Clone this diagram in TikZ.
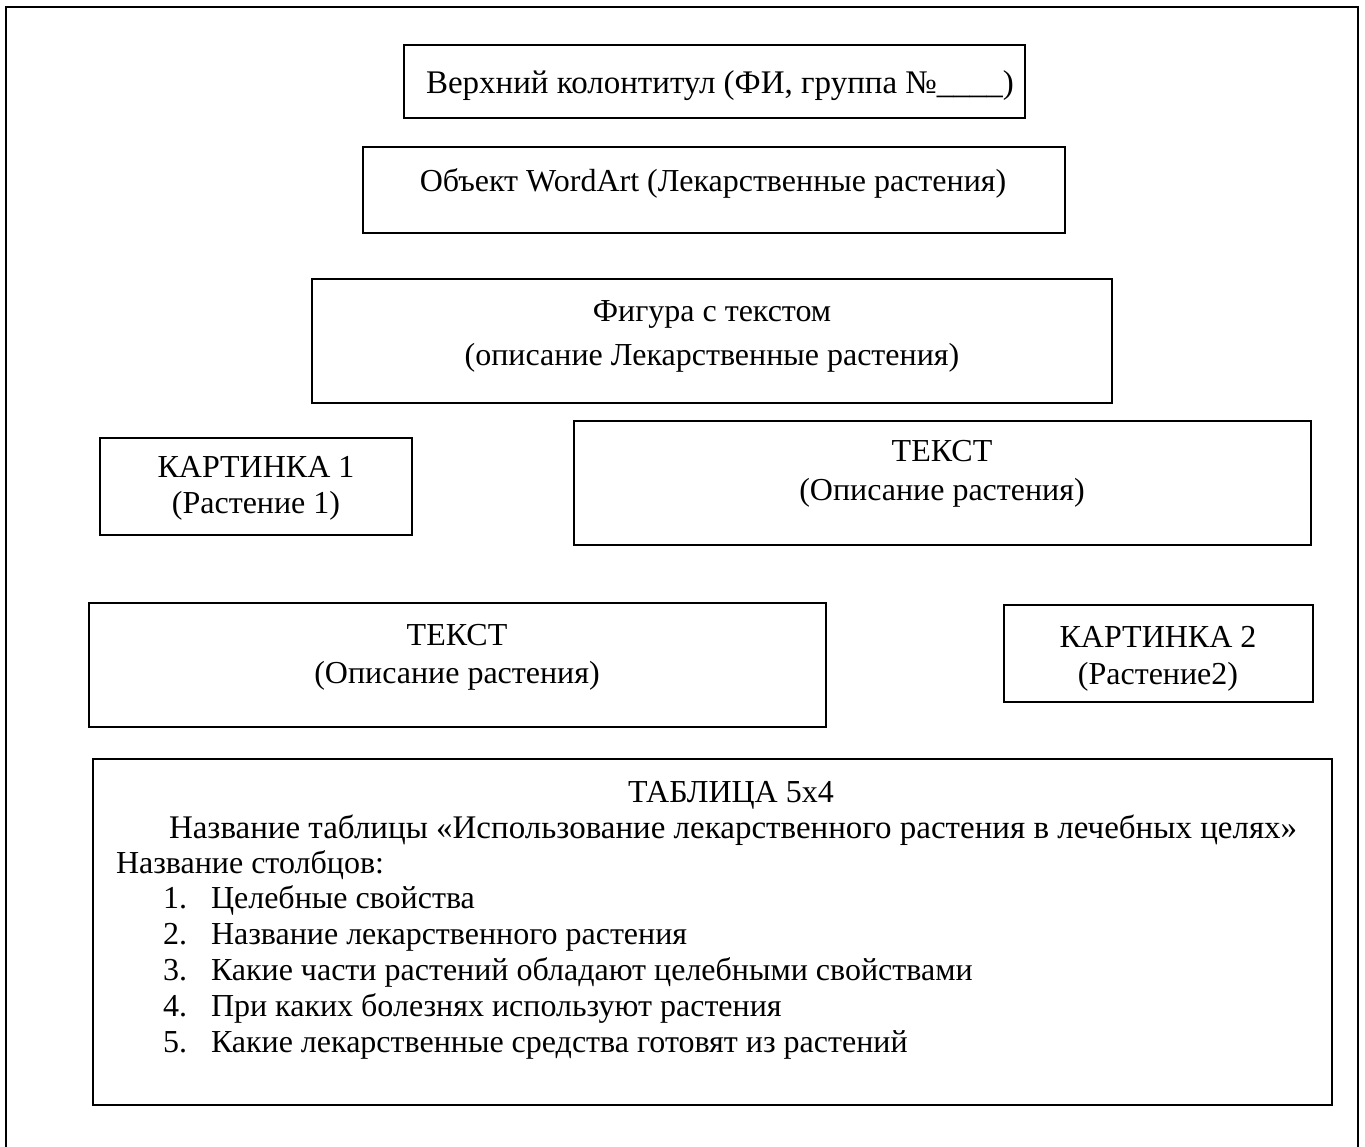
\documentclass[tikz,border=0pt]{standalone}
\usepackage{fontspec}
\setmainfont{Liberation Serif}
\begin{document}
\begin{tikzpicture}[x=1pt,y=-1pt,
  box/.style={draw=black, line width=2pt, inner sep=0pt, outer sep=0pt},
  txt/.style={font=\fontsize{32}{36}\selectfont, inner sep=0pt, outer sep=0pt, anchor=base},
  ltxt/.style={txt, anchor=base west},
  wide/.style={font=\fontsize{33}{36}\selectfont}]
\useasboundingbox (0,0) rectangle (1365,1146);
% outer page frame
\draw[line width=2pt] (6,1150) -- (6,7) -- (1358,7) -- (1358,1150);

% boxes
\node[box, minimum width=621pt, minimum height=73pt]  (b1) at (714.5,81.5) {};
\node[box, minimum width=702pt, minimum height=86pt]  (b2) at (714,190) {};
\node[box, minimum width=800pt, minimum height=124pt] (b3) at (712,341) {};
\node[box, minimum width=312pt, minimum height=97pt]  (b4) at (256,486.5) {};
\node[box, minimum width=737pt, minimum height=124pt] (b5) at (942.5,483) {};
\node[box, minimum width=737pt, minimum height=124pt] (b6) at (457.5,665) {};
\node[box, minimum width=309pt, minimum height=97pt]  (b7) at (1158.5,653.5) {};
\node[box, minimum width=1239pt, minimum height=346pt] (b8) at (712.5,932) {};

% texts
\node[ltxt, wide] (t1) at (426,93) {Верхний колонтитул (ФИ, группа №\_\_\_\_)};
\node[txt] (t2) at (713,191) {Объект WordArt (Лекарственные растения)};
\node[txt] (t3a) at (712,321) {Фигура с текстом};
\node[txt] (t3b) at (712,365) {(описание Лекарственные растения)};
\node[txt] (t4a) at (256,477) {КАРТИНКА 1};
\node[txt] (t4b) at (256,513) {(Растение 1)};
\node[txt] (t5a) at (942,461) {ТЕКСТ};
\node[txt] (t5b) at (942,500) {(Описание растения)};
\node[txt] (t6a) at (457,645) {ТЕКСТ};
\node[txt] (t6b) at (457,683) {(Описание растения)};
\node[txt] (t7a) at (1158,647) {КАРТИНКА 2};
\node[txt] (t7b) at (1158,684) {(Растение2)};

\node[txt] (t8) at (731,802) {ТАБЛИЦА 5х4};
\node[ltxt, wide] (t9) at (169,838) {Название таблицы «Использование лекарственного растения в лечебных целях»};
\node[ltxt] (t10) at (116,873) {Название столбцов:};
\node[ltxt] (n1) at (163,908) {1.};
\node[ltxt] (i1) at (211,908) {Целебные свойства};
\node[ltxt] (n2) at (163,944) {2.};
\node[ltxt] (i2) at (211,944) {Название лекарственного растения};
\node[ltxt] (n3) at (163,980) {3.};
\node[ltxt] (i3) at (211,980) {Какие части растений обладают целебными свойствами};
\node[ltxt] (n4) at (163,1016) {4.};
\node[ltxt] (i4) at (211,1016) {При каких болезнях используют растения};
\node[ltxt] (n5) at (163,1052) {5.};
\node[ltxt] (i5) at (211,1052) {Какие лекарственные средства готовят из растений};
\end{tikzpicture}
\end{document}
